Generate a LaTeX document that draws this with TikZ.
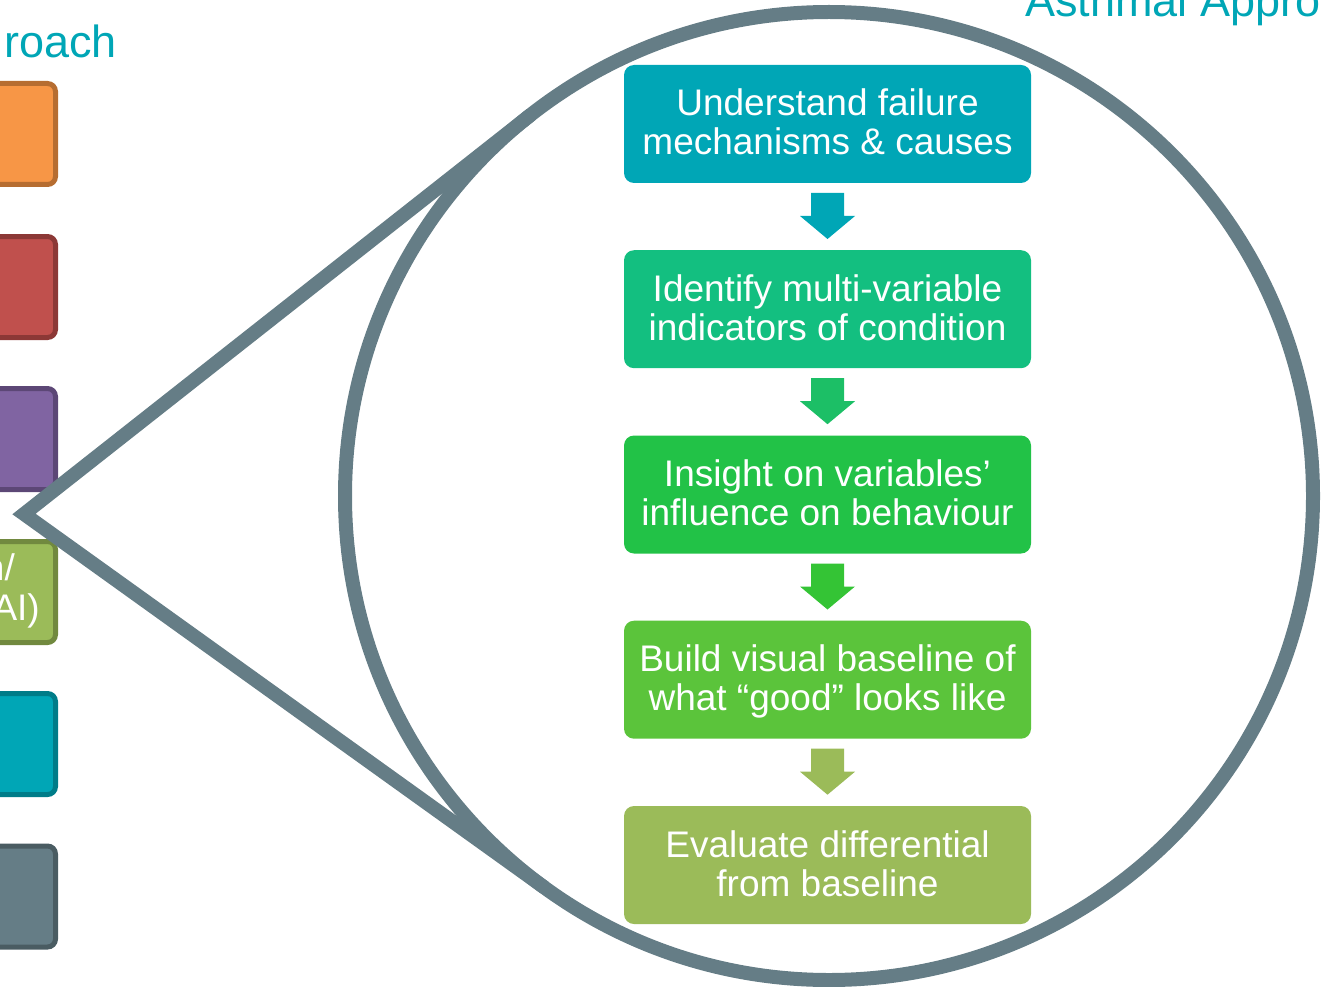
\documentclass[tikz,border=0pt]{standalone}
\usepackage{fontspec}
\setmainfont{Liberation Sans}
\usetikzlibrary{calc}
\definecolor{teal1}{HTML}{00A6B6}
\definecolor{sea}{HTML}{13BF80}
\definecolor{grn}{HTML}{22C247}
\definecolor{lime}{HTML}{5BC43B}
\definecolor{olive}{HTML}{9BBB59}
\definecolor{arr2}{HTML}{1CBF66}
\definecolor{arr3}{HTML}{34C435}
\definecolor{slate}{HTML}{657D86}
\definecolor{orF}{HTML}{F79646}\definecolor{orD}{HTML}{B66D31}
\definecolor{reF}{HTML}{C0504D}\definecolor{reD}{HTML}{8C3836}
\definecolor{puF}{HTML}{8064A2}\definecolor{puD}{HTML}{5C4776}
\definecolor{olD}{HTML}{71893F}
\definecolor{teD}{HTML}{007C88}
\definecolor{slD}{HTML}{4A5C62}
\tikzset{
  stepbox/.style={rectangle, rounded corners=10pt, minimum width=407pt, minimum height=118pt, inner sep=0pt, outer sep=0pt},
  txt/.style={text=white, font=\fontsize{37}{39}\selectfont, inner sep=0pt, anchor=base},
  title/.style={text=teal1, font=\fontsize{45}{50}\selectfont, inner sep=0pt},
  sidebox/.style={line width=5pt, rounded corners=8pt},
  lens/.style={circle, draw=slate, line width=14pt, minimum size=968pt, inner sep=0pt, outer sep=0pt},
  pointer/.style={draw=slate, line width=14pt, line join=miter}
}
\newcommand{\downarrowshape}[2]{%
  \fill[#2] ($(#1.south)+(-16.5,10)$) -- ($(#1.south)+(16.5,10)$) -- ($(#1.south)+(16.5,33)$) -- ($(#1.south)+(27.5,33)$) -- ($(#1.south)+(0,56)$) -- ($(#1.south)+(-27.5,33)$) -- ($(#1.south)+(-16.5,33)$) -- cycle;}
\begin{document}
\begin{tikzpicture}[x=1pt, y=-1pt]
\useasboundingbox (0,0) rectangle (1322,987);
\clip (0,0) rectangle (1322,987);
% titles
\node[title, anchor=base east] (t1) at (117,58) {roach};
\node[title, anchor=base west] (t2) at (1025,17) {Asthmal Appro};
% side boxes
\draw[sidebox, fill=orF, draw=orD] (-30,83.5) rectangle (55.5,184.5);
\draw[sidebox, fill=reF, draw=reD] (-30,236.5) rectangle (55.5,337.5);
\draw[sidebox, fill=puF, draw=puD] (-30,388.5) rectangle (55.5,489.5);
\draw[sidebox, fill=olive, draw=olD] (-30,541.5) rectangle (55.5,642.5);
\draw[sidebox, fill=teal1, draw=teD] (-30,693.5) rectangle (55.5,794.5);
\draw[sidebox, fill=slate, draw=slD] (-30,846) rectangle (55.5,947);
\node[txt, anchor=base east] (s1) at (15,580) {n/};
\node[txt, anchor=base east] (s2) at (40,620) {AI)};
% magnifier
\node[lens] (lens) at (829,496) {};
\coordinate (tip) at (24,514);
\draw[pointer] (lens.128.2) -- (tip) -- (lens.234.3);
% steps
\node[stepbox, fill=teal1] (b1) at (827.5,124) {};
\node[stepbox, fill=sea]   (b2) at (827.5,309.2) {};
\node[stepbox, fill=grn]   (b3) at (827.5,494.5) {};
\node[stepbox, fill=lime]  (b4) at (827.5,679.7) {};
\node[stepbox, fill=olive] (b5) at (827.5,865) {};
\node[txt] (b1a) at ($(b1.north)+(0,51)$) {Understand failure};
\node[txt] (b1b) at ($(b1.north)+(0,90)$) {mechanisms \& causes};
\node[txt] (b2a) at ($(b2.north)+(0,51)$) {Identify multi-variable};
\node[txt] (b2b) at ($(b2.north)+(0,90)$) {indicators of condition};
\node[txt] (b3a) at ($(b3.north)+(0,51)$) {Insight on variables’};
\node[txt] (b3b) at ($(b3.north)+(0,90)$) {influence on behaviour};
\node[txt] (b4a) at ($(b4.north)+(0,51)$) {Build visual baseline of};
\node[txt] (b4b) at ($(b4.north)+(0,90)$) {what “good” looks like};
\node[txt] (b5a) at ($(b5.north)+(0,51)$) {Evaluate differential};
\node[txt] (b5b) at ($(b5.north)+(0,90)$) {from baseline};
\downarrowshape{b1}{teal1}
\downarrowshape{b2}{arr2}
\downarrowshape{b3}{arr3}
\downarrowshape{b4}{olive}
\end{tikzpicture}
\end{document}
